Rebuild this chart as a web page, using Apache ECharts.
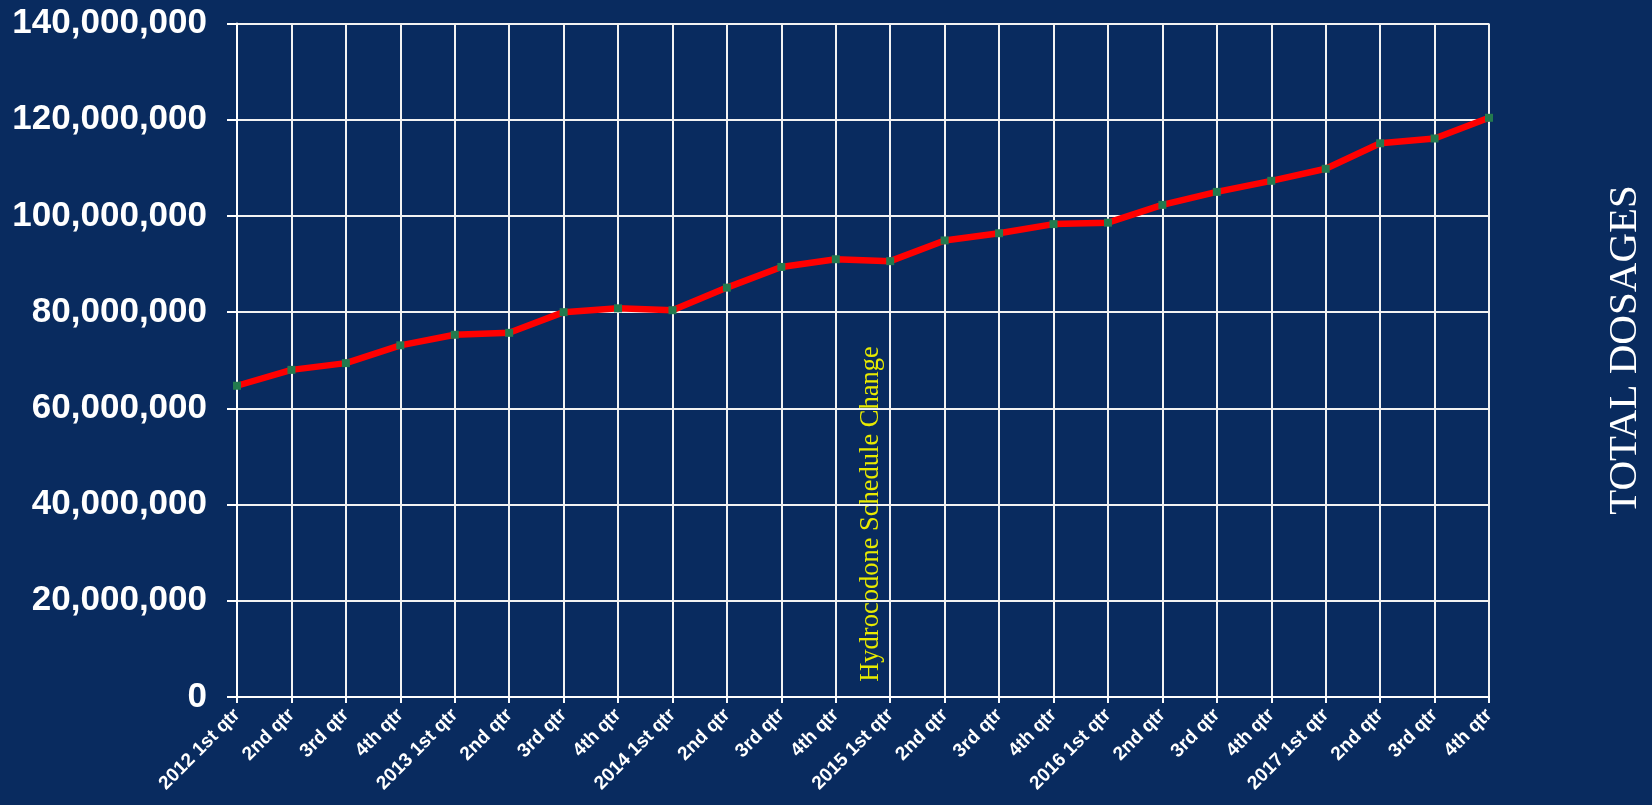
<!DOCTYPE html>
<html>
<head>
<meta charset="utf-8">
<script src="https://cdn.jsdelivr.net/npm/echarts@6/dist/echarts.min.js"></script>
<style>
html,body{margin:0;padding:0;background:#092b5f;}
#c{width:1652px;height:805px;}
</style>
</head>
<body>
<div id="c"></div>
<script>
const categories = ["2012 1st qtr","2nd qtr","3rd qtr","4th qtr","2013 1st qtr","2nd qtr","3rd qtr","4th qtr","2014 1st qtr","2nd qtr","3rd qtr","4th qtr","2015 1st qtr","2nd qtr","3rd qtr","4th qtr","2016 1st qtr","2nd qtr","3rd qtr","4th qtr","2017 1st qtr","2nd qtr","3rd qtr","4th qtr"];
const totalDosages = [64700000,68000000,69400000,73100000,75300000,75700000,80000000,80800000,80400000,85100000,89400000,91000000,90600000,94900000,96400000,98300000,98600000,102300000,105000000,107300000,109800000,115100000,116100000,120400000];
const yTicks = {min:0, max:140000000, interval:20000000};
const axisTitle = "TOTAL DOSAGES";
const annotation = "Hydrocodone Schedule Change";

const chart = echarts.init(document.getElementById('c'));
chart.setOption({
  backgroundColor:'#092b5f',
  animation:false,
  grid:{left:237, right:163, top:23.5, bottom:108, containLabel:false},
  xAxis:{
    type:'category', data:categories, boundaryGap:false,
    axisLine:{show:true, lineStyle:{color:'#ffffff', width:2}},
    axisTick:{show:true, length:6, lineStyle:{color:'#ffffff', width:2}},
    splitLine:{show:true, lineStyle:{color:'#f2f2f2', width:2}},
    axisLabel:{interval:0, rotate:45, color:'#ffffff', fontFamily:'Liberation Sans, Arial, sans-serif', fontWeight:'bold', fontSize:19, margin:15}
  },
  yAxis:{
    type:'value', min:yTicks.min, max:yTicks.max, interval:yTicks.interval,
    axisLine:{show:true, lineStyle:{color:'#ffffff', width:2}},
    axisTick:{show:true, length:10, lineStyle:{color:'#ffffff', width:2}},
    splitLine:{show:true, lineStyle:{color:'#f2f2f2', width:2}},
    axisLabel:{color:'#ffffff', fontFamily:'Liberation Sans, Arial, sans-serif', fontWeight:'bold', fontSize:35, margin:30,
      formatter:v=>v.toLocaleString('en-US')}
  },
  series:[{
    type:'line', data:totalDosages,
    lineStyle:{color:'#ff0000', width:6.5},
    itemStyle:{color:'#237a4e'},
    symbol:'rect', symbolSize:8, showSymbol:true
  }],
  graphic:[
    {type:'text', rotation:Math.PI/2, x:1625, y:350,
     style:{text:axisTitle, fill:'#ffffff', font:'41px "Liberation Serif", "Times New Roman", serif', textAlign:'center', textVerticalAlign:'middle'}},
    {type:'text', rotation:Math.PI/2, x:871, y:514,
     style:{text:annotation, fill:'#e8ea00', font:'26.5px "Liberation Serif", "Times New Roman", serif', textAlign:'center', textVerticalAlign:'middle'}}
  ]
});
</script>
</body>
</html>
